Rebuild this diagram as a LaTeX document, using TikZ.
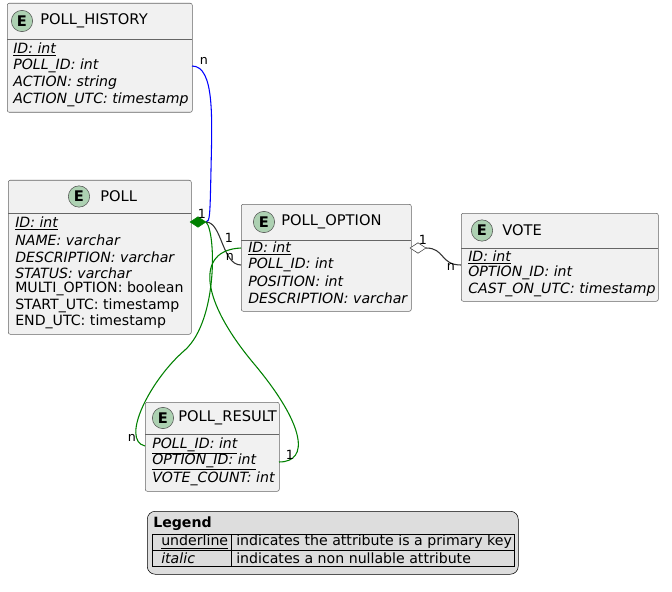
\documentclass[tikz,border=0pt]{standalone}
\usepackage{fontspec}
\setmainfont{DejaVu Sans}
\usetikzlibrary{shapes.geometric}
\definecolor{boxfill}{HTML}{F1F1F1}
\definecolor{spotfill}{HTML}{ADD1B2}
\definecolor{legfill}{HTML}{DDDDDD}
\definecolor{relgreen}{HTML}{008000}
\tikzset{
  box/.style={draw=black!60, fill=boxfill, rounded corners=1.5pt, anchor=north west, inner sep=0pt},
  spot/.style={circle, draw=black!70, fill=spotfill, minimum size=16pt, inner sep=0pt, font=\bfseries\fontsize{11}{12}\selectfont},
  attr/.style={anchor=west, inner sep=0pt, font=\itshape\fontsize{10.6}{12}\selectfont},
  plain/.style={anchor=west, inner sep=0pt, font=\fontsize{10.6}{12}\selectfont},
  title/.style={anchor=west, inner sep=0pt, font=\fontsize{11}{12}\selectfont},
  card/.style={inner sep=0pt, font=\fontsize{9.5}{11}\selectfont},
  rel/.style={line width=0.8pt},
}
% \entity{name}{x1}{y1}{x2}{y2}{separator y}{spot x}{title x}{title}
\newcommand{\entity}[9]{
  \node[box, minimum width={(#4-#2)*0.75pt}, minimum height={(#5-#3)*0.75pt}] (#1) at (#2,#3) {};
  \draw[black!60] (#2,#6) -- (#4,#6);
  \node[spot] (#1-spot) at (#7,{(#3+#6)/2}) {E};
  \node[title] (#1-title) at (#8,{(#3+#6)/2}) {#9};
}
\begin{document}
\begin{tikzpicture}[x=0.75pt, y=-0.75pt]
  \useasboundingbox (0,0) rectangle (672,592);

  % Entitaeten
  \entity{hist}{7}{3}{192}{112}{39}{22}{40}{POLL\_HISTORY}
  \node[attr] (hist-a1) at (13,49) {\underline{ID: int}};
  \node[attr] (hist-a2) at (13,66) {POLL\_ID: int};
  \node[attr] (hist-a3) at (13,83) {ACTION: string};
  \node[attr] (hist-a4) at (13,100) {ACTION\_UTC: timestamp};

  \entity{poll}{8}{180}{191}{334}{213}{79}{100}{POLL}
  \node[attr] (poll-a1) at (15,223) {\underline{ID: int}};
  \node[attr] (poll-a2) at (15,240) {NAME: varchar};
  \node[attr] (poll-a3) at (15,257) {DESCRIPTION: varchar};
  \node[attr] (poll-a4) at (15,273) {STATUS: varchar};
  \node[plain] (poll-a5) at (15,289) {MULTI\_OPTION: boolean};
  \node[plain] (poll-a6) at (15,306) {START\_UTC: timestamp};
  \node[plain] (poll-a7) at (15,322) {END\_UTC: timestamp};

  \entity{opt}{241}{204}{411}{311}{240}{264}{281}{POLL\_OPTION}
  \node[attr] (opt-a1) at (248,248) {\underline{ID: int}};
  \node[attr] (opt-a2) at (248,265) {POLL\_ID: int};
  \node[attr] (opt-a3) at (248,281) {POSITION: int};
  \node[attr] (opt-a4) at (248,298) {DESCRIPTION: varchar};

  \entity{vote}{461}{213}{658}{301}{248}{482}{502}{VOTE}
  \node[attr] (vote-a1) at (468,257) {\underline{ID: int}};
  \node[attr] (vote-a2) at (468,273) {OPTION\_ID: int};
  \node[attr] (vote-a3) at (468,290) {CAST\_ON\_UTC: timestamp};

  \entity{res}{145}{402}{279}{491}{434}{163}{178}{POLL\_RESULT}
  \node[attr] (res-a1) at (152,446) {\underline{POLL\_ID: int}};
  \node[attr] (res-a2) at (152,462) {\underline{OPTION\_ID: int}};
  \node[attr] (res-a3) at (152,479) {VOTE\_COUNT: int};

  % Andockpunkte
  \coordinate (histR) at (192,66);
  \coordinate (pollD) at (206,222);
  \coordinate (optL1) at (241,248);
  \coordinate (optL2) at (241,265);
  \coordinate (optD) at (426,248);
  \coordinate (voteL) at (461,265);
  \coordinate (resL) at (145,446);
  \coordinate (resR) at (279,462);

  % Beziehungen
  \draw[rel, blue] (histR) .. controls (215,66) and (212,120) .. (211,170)
    .. controls (210,215) and (210,222) .. (pollD);
  \draw[rel, black!80] (pollD) .. controls (222,222) and (222,265) .. (optL2);
  \draw[rel, relgreen] (pollD) .. controls (216,232) and (218,320) .. (185,350)
    .. controls (150,380) and (120,440) .. (resL);
  \draw[rel, relgreen] (optL1) .. controls (195,250) and (200,300) .. (255,365)
    .. controls (305,425) and (310,462) .. (resR);
  \draw[rel, black!80] (optD) .. controls (445,248) and (440,265) .. (voteL);
  \node[diamond, fill=relgreen, draw=relgreen, minimum width=12pt, minimum height=8pt, inner sep=0pt] (pollDia) at (198,222) {};
  \node[diamond, fill=white, draw=black!80, minimum width=12pt, minimum height=8pt, inner sep=0pt] (optDia) at (418,248) {};

  % Kardinalitaeten
  \node[card] (c1) at (204,61) {n};
  \node[card] (c2) at (202,214) {1};
  \node[card] (c3) at (229,238) {1};
  \node[card] (c4) at (230,257) {n};
  \node[card] (c5) at (132,438) {n};
  \node[card] (c6) at (290,455) {1};
  \node[card] (c7) at (423,240) {1};
  \node[card] (c8) at (451,267) {n};

  % Legende
  \node[box, draw=black, fill=legfill, rounded corners=6pt, minimum width={371*0.75pt}, minimum height={63*0.75pt}] (legend) at (147,511) {};
  \node[anchor=west, inner sep=0pt, font=\bfseries\fontsize{10.6}{12}\selectfont] (leg-title) at (153,524) {Legend};
  \draw[black] (152,534) rectangle (514,566);
  \draw[black] (152,550) -- (514,550);
  \draw[black] (231,534) -- (231,566);
  \node[plain] (leg-k1) at (161,542) {\underline{underline}};
  \node[plain] (leg-v1) at (236,542) {indicates the attribute is a primary key};
  \node[attr] (leg-k2) at (161,558) {italic};
  \node[plain] (leg-v2) at (236,558) {indicates a non nullable attribute};
\end{tikzpicture}
\end{document}
